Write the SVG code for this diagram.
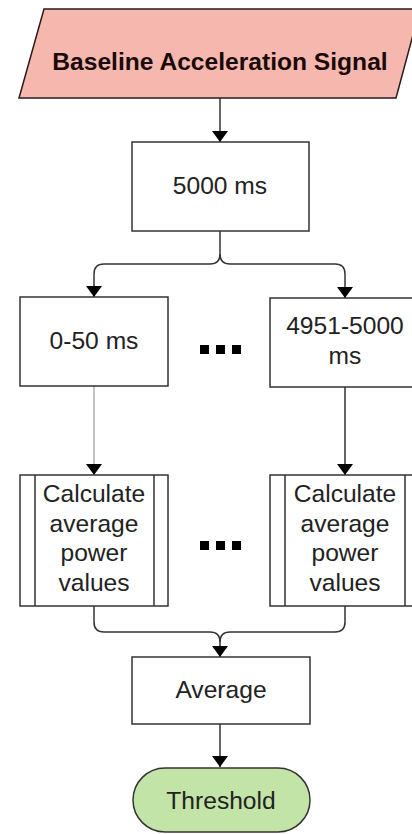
<svg xmlns="http://www.w3.org/2000/svg" width="412" height="834" viewBox="0 0 412 834">
<defs>
<marker id="ah" viewBox="0 0 11 16" refX="11" refY="8" markerWidth="11" markerHeight="16" markerUnits="userSpaceOnUse" orient="auto">
<path d="M0,0 L11,8 L0,16 Z" fill="#000"/>
</marker>
<style>
.box{fill:#fff;stroke:#333;stroke-width:1.5}
.t{font-family:"Liberation Sans",Arial,sans-serif;font-size:24.6px;fill:#222;text-anchor:middle;dominant-baseline:central}
.c{fill:none;stroke:#333;stroke-width:1.5}
.dot{fill:#000}
</style>
</defs>
<rect width="412" height="834" fill="#fff"/>
<g id="connectors">
<path class="c" d="M220,98 V142" marker-end="url(#ah)"/>
<path class="c" d="M220,231 V254 Q220,264 210,264 H104 Q94,264 94,274 V297" marker-end="url(#ah)"/>
<path class="c" d="M220,254 Q220,264 230,264 H335 Q345,264 345,274 V298" marker-end="url(#ah)"/>
<path class="c" d="M94,386 V475" style="stroke:#999;stroke-width:1.2" marker-end="url(#ah)"/>
<path class="c" d="M345,387 V475" marker-end="url(#ah)"/>
<path class="c" d="M94,606 V622 Q94,632 104,632 H210 Q220,632 220,642 V657" marker-end="url(#ah)"/>
<path class="c" d="M345,606 V622 Q345,632 335,632 H230 Q220,632 220,642"/>
<path class="c" d="M220,724 V767" marker-end="url(#ah)"/>
</g>
<g id="signal">
<polygon points="44,9 420,9 396,98 19,98" fill="#f6b8ae" stroke="#2a1a1a" stroke-width="1.5"/>
<text class="t" x="220" y="61" style="font-weight:bold;fill:#1a0a0a">Baseline Acceleration Signal</text>
</g>
<g id="n5000">
<rect class="box" x="132" y="142" width="177" height="89"/>
<text class="t" x="220" y="185">5000 ms</text>
</g>
<g id="n0_50">
<rect class="box" x="20" y="297" width="148" height="89"/>
<text class="t" x="94" y="340">0-50 ms</text>
</g>
<g id="dots1">
<rect class="dot" x="200" y="345" width="9" height="9"/>
<rect class="dot" x="216" y="345" width="9" height="9"/>
<rect class="dot" x="232" y="345" width="9" height="9"/>
</g>
<g id="n4951">
<rect class="box" x="270" y="298" width="150" height="89"/>
<text class="t" x="345" y="325">4951-5000</text>
<text class="t" x="345" y="355">ms</text>
</g>
<g id="calc1">
<rect class="box" x="20" y="475" width="148" height="131"/>
<line class="c" x1="35" y1="475" x2="35" y2="606"/>
<line class="c" x1="154" y1="475" x2="154" y2="606"/>
<text class="t" x="94" y="493">Calculate</text>
<text class="t" x="94" y="523">average</text>
<text class="t" x="94" y="552">power</text>
<text class="t" x="94" y="582">values</text>
</g>
<g id="dots2">
<rect class="dot" x="200" y="541" width="9" height="9"/>
<rect class="dot" x="216" y="541" width="9" height="9"/>
<rect class="dot" x="232" y="541" width="9" height="9"/>
</g>
<g id="calc2">
<rect class="box" x="270" y="475" width="150" height="131"/>
<line class="c" x1="285" y1="475" x2="285" y2="606"/>
<line class="c" x1="405" y1="475" x2="405" y2="606"/>
<text class="t" x="345" y="493">Calculate</text>
<text class="t" x="345" y="523">average</text>
<text class="t" x="345" y="552">power</text>
<text class="t" x="345" y="582">values</text>
</g>
<g id="average">
<rect class="box" x="132" y="657" width="178" height="67"/>
<text class="t" x="221" y="689">Average</text>
</g>
<g id="threshold">
<rect x="133" y="768" width="177" height="64" rx="32" ry="32" fill="#c2e4a6" stroke="#333" stroke-width="1.5"/>
<text class="t" x="221" y="800">Threshold</text>
</g>
</svg>
